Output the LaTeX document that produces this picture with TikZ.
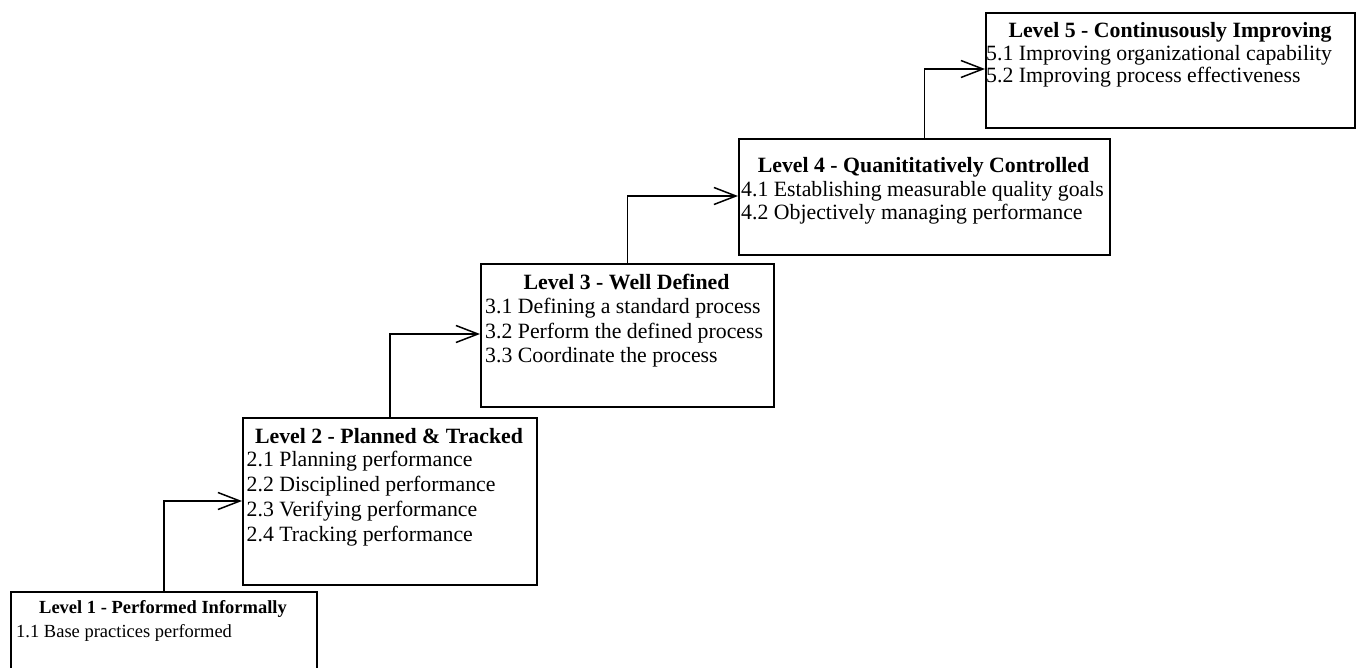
\documentclass[tikz,border=0pt]{standalone}
\usepackage{fontspec}
\setmainfont{Liberation Serif}
\usetikzlibrary{arrows.meta}
\begin{document}
\begin{tikzpicture}[x=1pt,y=-1pt,
  lvbox/.style={draw=black, line width=1.6pt, fill=white, inner sep=0pt, anchor=north west},
  ttl/.style={font=\fontsize{21.8}{25}\selectfont\bfseries, anchor=base, inner sep=0pt},
  itm/.style={font=\fontsize{21.8}{25}\selectfont, anchor=base west, inner sep=0pt},
  ttlsmall/.style={font=\fontsize{18.5}{22}\selectfont\bfseries, anchor=base, inner sep=0pt},
  itmsmall/.style={font=\fontsize{18.5}{22}\selectfont, anchor=base west, inner sep=0pt},
  conn/.style={line width=1.5pt, -{Straight Barb[length=22pt,width=17pt,line width=1.5pt]}}]
\useasboundingbox (0,0) rectangle (1356,668);
\clip (0,0) rectangle (1356,668);

% boxes
\node[lvbox, minimum width=306pt, minimum height=100pt] (b1) at (10,591) {};
\node[lvbox, minimum width=294pt, minimum height=167pt] (b2) at (242,417) {};
\node[lvbox, minimum width=293pt, minimum height=143pt] (b3) at (480,263) {};
\node[lvbox, minimum width=371pt, minimum height=116pt] (b4) at (738,138) {};
\node[lvbox, minimum width=369pt, minimum height=115pt] (b5) at (985,12) {};

% texts
\node[ttlsmall] (t1) at (163,613) {Level 1 - Performed Informally};
\node[itmsmall] (i11) at (16,637) {1.1 Base practices performed};

\node[ttl] (t2) at (389,443) {Level 2 - Planned \& Tracked};
\node[itm] (i21) at (246.5,466) {2.1 Planning performance};
\node[itm] (i22) at (246.5,491) {2.2 Disciplined performance};
\node[itm] (i23) at (246.5,516) {2.3 Verifying performance};
\node[itm] (i24) at (246.5,541) {2.4 Tracking performance};

\node[ttl] (t3) at (626.5,289) {Level 3 - Well Defined};
\node[itm] (i31) at (485,313) {3.1 Defining a standard process};
\node[itm] (i32) at (485,338) {3.2 Perform the defined process};
\node[itm] (i33) at (485,362) {3.3 Coordinate the process};

\node[ttl] (t4) at (923.5,173) {Level 4 - Quanititatively Controlled};
\node[itm] (i41) at (741,197) {4.1 Establishing measurable quality goals};
\node[itm] (i42) at (741,220) {4.2 Objectively managing performance};

\node[ttl] (t5) at (1170,38) {Level 5 - Continusously Improving};
\node[itm] (i51) at (986,61) {5.1 Improving organizational capability};
\node[itm] (i52) at (986,83) {5.2 Improving process effectiveness};

% connector targets on the left edges
\coordinate (a2) at (242,501);
\coordinate (a3) at (480,334);
\coordinate (a4) at (738,196);
\coordinate (a5) at (985,69);

\draw[conn] (b1.north) |- (a2);
\draw[conn] (b2.north) |- (a3);
\draw[conn] (b3.north) |- (a4);
\draw[conn] (b4.north) |- (a5);
\end{tikzpicture}
\end{document}
